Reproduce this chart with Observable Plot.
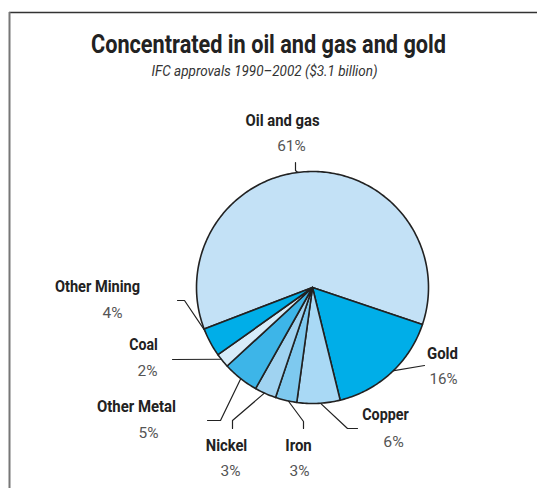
<!DOCTYPE html>
<html><head><meta charset="utf-8">
<script src="https://cdn.jsdelivr.net/npm/d3@7"></script>
<script src="https://cdn.jsdelivr.net/npm/@observablehq/plot@0.6"></script>
<style>body{margin:0;background:#fff}</style>
</head><body><div id="chart"></div>
<script>
// ---- data ----
const titleText = "Concentrated in oil and gas and gold";
const subtitleText = "IFC approvals 1990\u20132002 ($3.1 billion)";
const categories = ["Oil and gas", "Gold", "Copper", "Iron", "Nickel", "Other Metal", "Coal", "Other Mining"];
const shares = [61, 16, 6, 3, 3, 5, 2, 4];
const shareLabels = ["61%", "16%", "6%", "3%", "3%", "5%", "2%", "4%"];
const sliceColors = ["#c3e1f6", "#00aee8", "#a9d9f5", "#7ec9ef", "#a0d3f1", "#3db5e8", "#d7ecf9", "#00aee8"];

// ---- layout (pixels) ----
const W = 537, H = 488;
const cx = 312, cy = 287, R = 116, startDeg = -111;
const font = "Roboto, 'Liberation Sans', sans-serif";
const namePos = [[282,125],[442,358],[385,419],[298,450],[226,450],[136,411],[143,349],[97,291]];
const pctPos  = [[291,150],[443,383],[393,446],[299,475],[230,475],[148,437],[147,375],[112,317]];
const nameWidths = [74, 31, 46.5, 26.5, 41.5, 79, 28.5, 85];
const pctWidths = [28.5, 28, 20.5, 20, 20, 20, 20, 20];
const titleWidth = 355, subtitleWidth = 226;
const leaderStartDeg = [-6.5, null, null, null, null, null, null, null];
const leaderElbow = [[295,170],[424,365],[347,428],[303,421],[232,420],[220,420],[172,359],[184,300]];
const leaderEnd   = [[295,162],[424,365],[357,428],[303,428],[232,428],[207,420],[172,359],[177,300]];

const rad = Math.PI / 180;
const arcs = d3.pie().sort(null).value(d => d)
  .startAngle(startDeg * rad).endAngle(startDeg * rad + 2 * Math.PI)(shares);
const pt = (a, r) => ({px: cx + r * Math.sin(a), py: cy - r * Math.cos(a)});

const slicePolys = arcs.map(a => {
  const pts = [{px: cx, py: cy}];
  const n = Math.max(2, Math.ceil((a.endAngle - a.startAngle) / (1 * rad)));
  for (let k = 0; k <= n; k++) pts.push(pt(a.startAngle + (a.endAngle - a.startAngle) * k / n, R));
  return pts;
});

const leaders = [];
arcs.forEach((a, i) => {
  const ang = leaderStartDeg[i] != null ? leaderStartDeg[i] * rad : (a.startAngle + a.endAngle) / 2;
  const s = pt(ang, R - 2);
  leaders.push({id: i, px: s.px, py: s.py});
  leaders.push({id: i, px: leaderElbow[i][0], py: leaderElbow[i][1]});
  leaders.push({id: i, px: leaderEnd[i][0], py: leaderEnd[i][1]});
});

const nameData = categories.map((c, i) => ({t: c, w: nameWidths[i], px: namePos[i][0], py: namePos[i][1]}));
const pctData = shareLabels.map((c, i) => ({t: c, w: pctWidths[i], px: pctPos[i][0], py: pctPos[i][1]}));

const chart = Plot.plot({
  width: W, height: H, margin: 0,
  style: {fontFamily: font, background: "#fff"},
  x: {domain: [0, W], range: [0, W], axis: null},
  y: {domain: [0, H], range: [0, H], axis: null},
  marks: [
    Plot.ruleY([12], {x1: 9, x2: W, stroke: "#333", strokeWidth: 1.5}),
    Plot.ruleX([9], {y1: 12, y2: H, stroke: "#777", strokeWidth: 2}),
    Plot.text([titleText], {x: 268, y: 52, text: d => d, fontSize: 26, fontWeight: "bold", fill: "#222", lineAnchor: "bottom", fontFamily: font}),
    Plot.text([subtitleText], {x: 264, y: 75, text: d => d, fontSize: 14.5, fontStyle: "italic", fill: "#333", lineAnchor: "bottom", fontFamily: font}),
    Plot.line(leaders, {x: "px", y: "py", z: "id", stroke: "#222", strokeWidth: 1.2}),
    ...slicePolys.map((p, i) => Plot.line(p, {x: "px", y: "py", fill: sliceColors[i], stroke: "#222", strokeWidth: 1.6, strokeLinejoin: "round", curve: "linear-closed"})),
    Plot.text(nameData, {x: "px", y: "py", text: "t", fontSize: 16, fontWeight: "bold", fill: "#222", lineAnchor: "bottom", fontFamily: font}),
    Plot.text(pctData, {x: "px", y: "py", text: "t", fontSize: 15, fill: "#555", lineAnchor: "bottom", fontFamily: font})
  ]
});

// condense text horizontally to match the narrow typeface of the original
const widthOf = new Map();
nameData.forEach(d => widthOf.set(d.t, d.w));
shareLabels.forEach((t, i) => { if (!widthOf.has(t)) widthOf.set(t, pctWidths[i]); });
widthOf.set(titleText, titleWidth);
widthOf.set(subtitleText, subtitleWidth);
chart.querySelectorAll("text").forEach(el => {
  const w = widthOf.get(el.textContent);
  if (w) { el.setAttribute("textLength", w); el.setAttribute("lengthAdjust", "spacingAndGlyphs"); }
});
document.getElementById("chart").append(chart);
</script>
</body></html>
